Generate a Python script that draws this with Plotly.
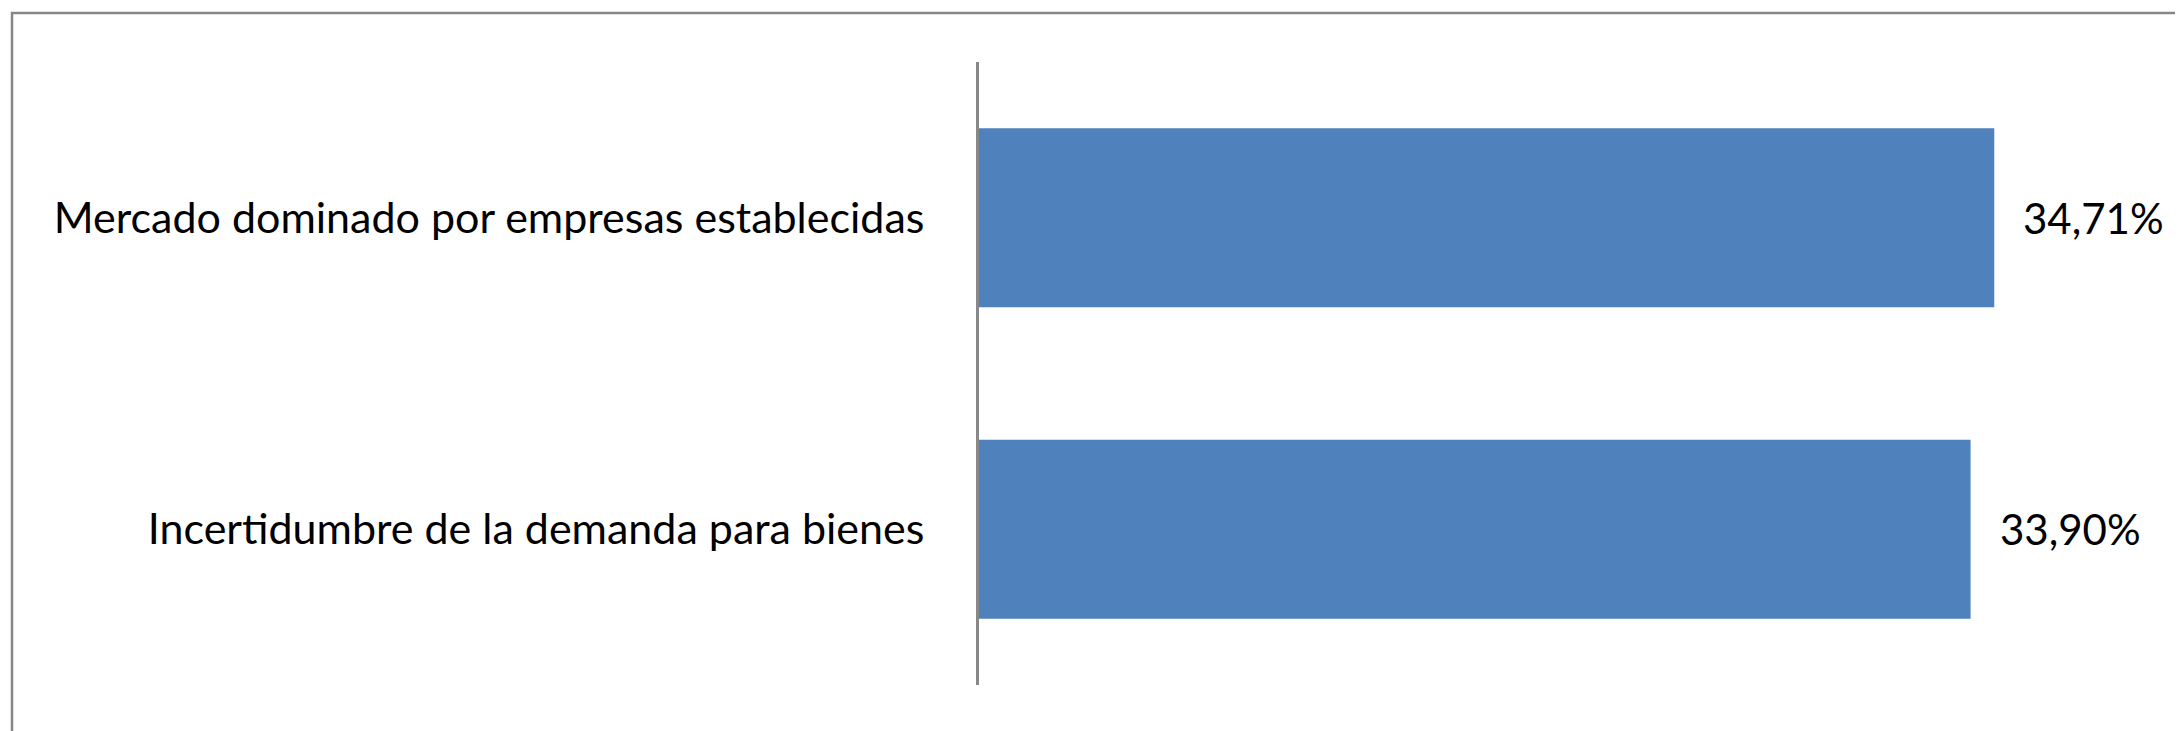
import plotly.graph_objects as go

categories = [
    "Mercado dominado por empresas establecidas",
    "Incertidumbre de la demanda para bienes",
]
values = [34.71, 33.90]
value_labels = ["34,71%", "33,90%"]

# the page body adds an 8px margin, so the figure is laid out 8px smaller
OFF = 8
W, H = 2183 - OFF, 731 - OFF
L, R, T, B = 979 - OFF, 34, 62 - OFF, 46
FONT = "Lato"

fig = go.Figure()

fig.add_trace(go.Bar(
    x=values, y=categories, orientation="h",
    marker=dict(color="rgb(79,129,189)", line=dict(width=0)),
    hoverinfo="skip", showlegend=False,
))

# data labels to the right of each bar
for cat, v, lab in zip(categories, values, value_labels):
    fig.add_annotation(
        x=v, y=cat, text=lab, showarrow=False,
        xanchor="left", xshift=27,
        font=dict(family=FONT, size=42, color="black"),
    )

# outer chart frame (runs off the right and bottom edge like the source)
pw, ph = W - L - R, H - T - B
fig.add_shape(
    type="rect", xref="paper", yref="paper",
    x0=(12 - OFF - L) / pw, x1=(W + 20 - L) / pw,
    y0=-(H + 20 - (H - B)) / ph, y1=((H - B) - (13 - OFF)) / ph,
    line=dict(color="#878787", width=2.5), fillcolor="rgba(0,0,0,0)",
    layer="below",
)

fig.update_layout(
    width=W, height=H,
    margin=dict(l=L, r=R, t=T, b=B),
    paper_bgcolor="white", plot_bgcolor="white",
    bargap=0.425,
    font=dict(family=FONT, size=43, color="black"),
    xaxis=dict(range=[0, 40], visible=False, fixedrange=True),
    yaxis=dict(
        autorange="reversed",
        showline=True, linecolor="#888888", linewidth=3,
        showgrid=False, ticks="", ticklabelstandoff=43,
        tickfont=dict(family=FONT, size=43, color="black"),
        fixedrange=True,
    ),
)

fig.write_html("out.html")
